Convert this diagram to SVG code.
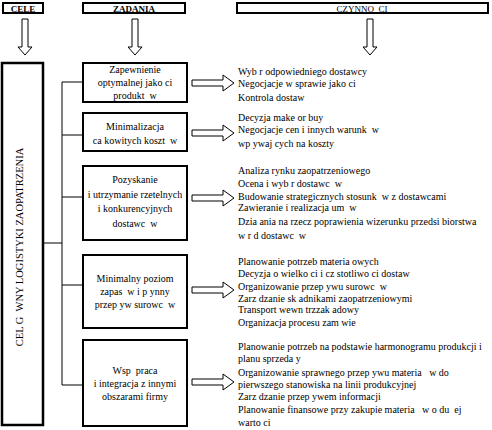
<svg xmlns="http://www.w3.org/2000/svg" width="492" height="430" viewBox="0 0 492 430">
<style>
text{font-family:"Liberation Serif","Times New Roman",serif;fill:#000;font-size:10px;white-space:pre}
.hdr{font-size:9px;font-weight:bold}
.hdrn{font-size:9px}
.c{text-anchor:middle}
.box{fill:#fff;stroke:#000;stroke-width:2}
.big{fill:#fff;stroke:#000;stroke-width:2.5}
.line{fill:none;stroke:#000;stroke-width:1}
.arr{fill:#fff;stroke:#000;stroke-width:1}
</style>
<defs>
<path id="adown" d="M-3,0 H3 V28 H7 L0,36 L-7,28 H-3 Z"/>
<path id="aright" d="M0,-3 V3 H31 V8 L42,0 L31,-8 V-3 Z"/>
</defs>
<g id="hdr-cele"><rect class="box" x="3" y="3" width="40" height="10"/><text class="hdr c" x="23" y="11.5">CELE</text></g>
<g id="hdr-zadania"><rect class="box" x="83" y="3" width="102" height="10"/><text class="hdr c" x="134" y="11.5">ZADANIA</text></g>
<g id="hdr-czynnosci"><rect class="box" x="237" y="3" width="251" height="10"/><text class="hdrn c" x="362" y="11.5">CZYNNO  CI</text></g>
<g id="arrows-down">
<use href="#adown" class="arr" x="25" y="19"/>
<use href="#adown" class="arr" x="135" y="19"/>
<use href="#adown" class="arr" x="370" y="19"/>
</g>
<g id="connectors">
<path class="line" d="M43,243 H62 M62,82 V385 M62,82 H83 M62,135 H83 M62,197 H83 M62,285 H83 M62,385 H83"/>
<use href="#aright" class="arr" x="192" y="83"/>
<use href="#aright" class="arr" x="192" y="133"/>
<use href="#aright" class="arr" x="192" y="198"/>
<use href="#aright" class="arr" x="192" y="290"/>
<use href="#aright" class="arr" x="192" y="382"/>
</g>
<g id="goal"><rect class="big" x="2" y="63" width="41" height="362"/><text class="c" style="font-size:10.5px" transform="translate(23,247) rotate(-90)">CEL G  WNY LOGISTYKI ZAOPATRZENIA</text></g>
<g id="task1"><rect class="box" x="83" y="63" width="104" height="39"/>
<text class="c" x="135" y="73">Zapewnienie</text><text class="c" x="135" y="86">optymalnej jako ci</text><text class="c" x="135" y="99">produkt  w</text></g>
<g id="task2"><rect class="box" x="83" y="113" width="104" height="38"/>
<text class="c" x="135" y="130">Minimalizacja</text><text class="c" x="135" y="144">ca kowitych koszt  w</text></g>
<g id="task3"><rect class="box" x="83" y="166" width="104" height="74"/>
<text class="c" x="135" y="183">Pozyskanie</text><text class="c" x="135" y="198">i utrzymanie rzetelnych</text><text class="c" x="135" y="212">i konkurencyjnych</text><text class="c" x="135" y="227">dostawc  w</text></g>
<g id="task4"><rect class="box" x="83" y="255" width="104" height="73"/>
<text class="c" x="135" y="282">Minimalny poziom</text><text class="c" x="135" y="295">zapas  w i p ynny</text><text class="c" x="135" y="308">przep yw surowc  w</text></g>
<g id="task5"><rect class="box" x="83" y="340" width="104" height="86"/>
<text class="c" x="135" y="374">Wsp  praca</text><text class="c" x="135" y="387">i integracja z innymi</text><text class="c" x="135" y="400">obszarami firmy</text></g>
<g id="acts1"><text x="238" y="75">Wyb r odpowiedniego dostawcy</text><text x="238" y="87">Negocjacje w sprawie jako ci</text><text x="238" y="101">Kontrola dostaw</text></g>
<g id="acts2"><text x="238" y="121">Decyzja make or buy</text><text x="238" y="133">Negocjacje cen i innych warunk  w</text><text x="238" y="147">wp ywaj cych na koszty</text></g>
<g id="acts3"><text x="238" y="174">Analiza rynku zaopatrzeniowego</text><text x="238" y="187">Ocena i wyb r dostawc  w</text><text x="238" y="200">Budowanie strategicznych stosunk  w z dostawcami</text><text x="238" y="211">Zawieranie i realizacja um  w</text><text x="238" y="225">Dzia ania na rzecz poprawienia wizerunku przedsi biorstwa</text><text x="238" y="239">w r d dostawc  w</text></g>
<g id="acts4"><text x="238" y="265">Planowanie potrzeb materia owych</text><text x="238" y="277">Decyzja o wielko ci i cz stotliwo ci dostaw</text><text x="238" y="290">Organizowanie przep ywu surowc  w</text><text x="238" y="302">Zarz dzanie sk adnikami zaopatrzeniowymi</text><text x="238" y="313">Transport wewn trzzak adowy</text><text x="238" y="326">Organizacja procesu zam wie</text></g>
<g id="acts5"><text x="238" y="350">Planowanie potrzeb na podstawie harmonogramu produkcji i</text><text x="238" y="362">planu sprzeda y</text><text x="238" y="376">Organizowanie sprawnego przep ywu materia   w do</text><text x="238" y="388">pierwszego stanowiska na linii produkcyjnej</text><text x="238" y="400">Zarz dzanie przep ywem informacji</text><text x="238" y="413">Planowanie finansowe przy zakupie materia   w o du  ej</text><text x="238" y="426">warto ci</text></g>
</svg>
